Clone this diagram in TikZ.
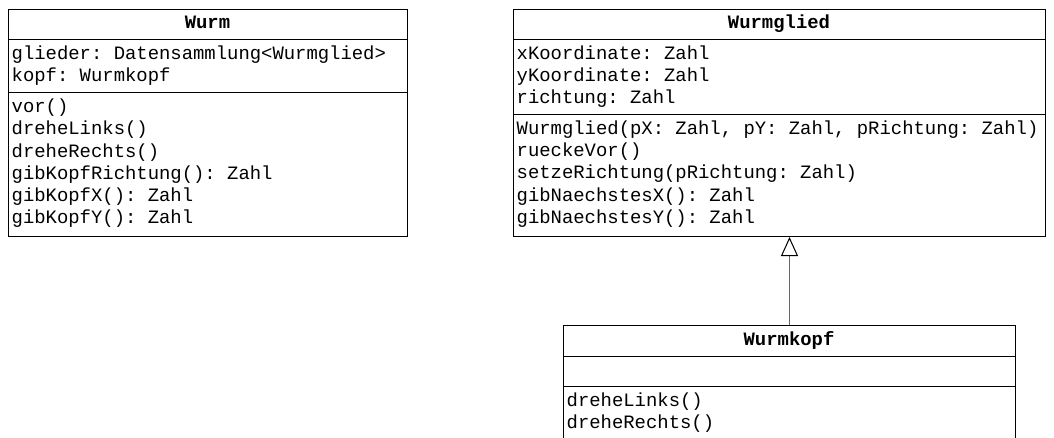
\documentclass[tikz,border=0pt]{standalone}
\usepackage{fontspec}
\setmonofont{Liberation Mono}
\usetikzlibrary{arrows.meta}
\newcommand\umlf{\ttfamily\fontsize{18.9}{22.2}\selectfont}
\begin{document}
\begin{tikzpicture}[x=1pt,y=-1pt,
  box/.style={draw=black, line width=1pt, inner sep=0pt, anchor=north west},
  txt/.style={anchor=base west, inner sep=0pt, font=\umlf},
  ttl/.style={anchor=base, inner sep=0pt, font=\umlf\bfseries},
  inherit/.style={draw=black!60, line width=1pt, -{Triangle[open,length=19pt,width=17pt,color=black]}}]
\clip (0,0) rectangle (1054,437);
\fill[white] (0,0) rectangle (1054,437);

% ---- Wurm ----
\node[box, minimum width=399pt, minimum height=30pt] (wurm-t) at (8,9) {};
\node[box, minimum width=399pt, minimum height=53pt] (wurm-a) at (8,39) {};
\node[box, minimum width=399pt, minimum height=144pt] (wurm-m) at (8,92) {};
\node[ttl] (wurm-title) at (207.5,28.3) {Wurm};
\node[txt] (wurm-a1) at (11.5,59.3) {glieder: Datensammlung<Wurmglied>};
\node[txt] (wurm-a2) at (11.5,81.5) {kopf: Wurmkopf};
\node[txt] (wurm-m1) at (11.5,112.7) {vor()};
\node[txt] (wurm-m2) at (11.5,134.9) {dreheLinks()};
\node[txt] (wurm-m3) at (11.5,157.1) {dreheRechts()};
\node[txt] (wurm-m4) at (11.5,179.3) {gibKopfRichtung(): Zahl};
\node[txt] (wurm-m5) at (11.5,201.5) {gibKopfX(): Zahl};
\node[txt] (wurm-m6) at (11.5,223.7) {gibKopfY(): Zahl};

% ---- Wurmglied ----
\node[box, minimum width=532pt, minimum height=30pt] (glied-t) at (513,9) {};
\node[box, minimum width=532pt, minimum height=75pt] (glied-a) at (513,39) {};
\node[box, minimum width=532pt, minimum height=122pt] (glied-m) at (513,114) {};
\node[ttl] (glied-title) at (779,28.3) {Wurmglied};
\node[txt] (glied-a1) at (516.5,59.3) {xKoordinate: Zahl};
\node[txt] (glied-a2) at (516.5,81.5) {yKoordinate: Zahl};
\node[txt] (glied-a3) at (516.5,103.7) {richtung: Zahl};
\node[txt] (glied-m1) at (516.5,134.5) {Wurmglied(pX: Zahl, pY: Zahl, pRichtung: Zahl)};
\node[txt] (glied-m2) at (516.5,156.7) {rueckeVor()};
\node[txt] (glied-m3) at (516.5,178.9) {setzeRichtung(pRichtung: Zahl)};
\node[txt] (glied-m4) at (516.5,201.1) {gibNaechstesX(): Zahl};
\node[txt] (glied-m5) at (516.5,223.3) {gibNaechstesY(): Zahl};

% ---- Wurmkopf ----
\node[box, minimum width=452pt, minimum height=31pt] (kopf-t) at (563,325) {};
\node[box, minimum width=452pt, minimum height=30pt] (kopf-a) at (563,356) {};
\node[box, minimum width=452pt, minimum height=90pt] (kopf-m) at (563,386) {};
\node[ttl] (kopf-title) at (789,345) {Wurmkopf};
\node[txt] (kopf-m1) at (566.5,406.7) {dreheLinks()};
\node[txt] (kopf-m2) at (566.5,428.9) {dreheRechts()};

% ---- inheritance ----
\draw[inherit] (kopf-t.north) -- (kopf-t.north |- glied-m.south);
\end{tikzpicture}
\end{document}
